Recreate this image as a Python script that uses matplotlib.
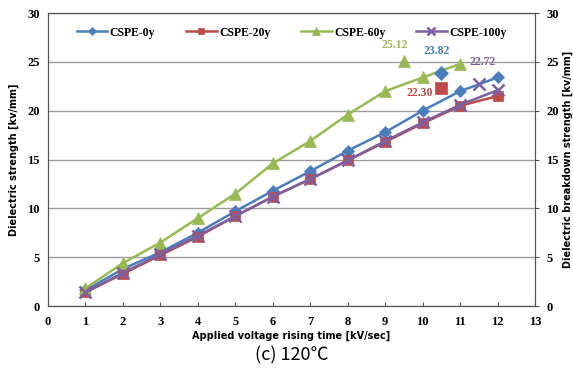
import matplotlib

matplotlib.use("Agg")
import matplotlib.pyplot as plt

# rising rate [kV/sec] and breakdown strength [kv/mm] per aged sample
x_rate = [1, 2, 3, 4, 5, 6, 7, 8, 9, 10, 11, 12]
cspe_0y = [1.6, 3.8, 5.5, 7.5, 9.7, 11.8, 13.8, 15.9, 17.8, 20.0, 22.0, 23.4]
cspe_20y = [1.4, 3.3, 5.2, 7.1, 9.2, 11.2, 13.0, 14.9, 16.8, 18.7, 20.5, 21.5]
cspe_60y = [1.8, 4.4, 6.5, 9.0, 11.5, 14.6, 16.9, 19.6, 22.0, 23.4, 24.8]
cspe_100y = [1.4, 3.4, 5.3, 7.2, 9.2, 11.2, 13.0, 14.9, 16.9, 18.8, 20.6, 22.1]

# averages drawn as lone markers with their value above
avg_x = [10.5, 10.5, 9.5, 11.5]
avg_y = [23.82, 22.30, 25.12, 22.72]
avg_labels = ["23.82", "22.30", "25.12", "22.72"]
label_pos = [(10.37, 26.1), (9.92, 21.8), (9.25, 26.7), (11.6, 25.0)]

names = ["CSPE-0y", "CSPE-20y", "CSPE-60y", "CSPE-100y"]
colors = ["#4a7ebb", "#be4b48", "#98b954", "#7d60a0"]
markers = ["D", "s", "^", "x"]
sizes = [6, 7, 8, 8]

SERIF = "Liberation Serif"
GRID = "#9a9a9a"
SPINE = "#555555"

fig = plt.figure(figsize=(5.73, 3.79), dpi=100)
ax = fig.add_axes([0.0838, 0.1926, 0.850, 0.773])

series = [cspe_0y, cspe_20y, cspe_60y, cspe_100y]
for vals, name, c, m, s in zip(series, names, colors, markers, sizes):
    ax.plot(x_rate[: len(vals)], vals, color=c, marker=m, markersize=s,
            markeredgewidth=1.8 if m == "x" else 0.5, linewidth=1.8, label=name)

for i in range(4):
    ax.plot(avg_x[i], avg_y[i], linestyle="none", marker=markers[i],
            markersize=sizes[i] + 1, color=colors[i],
            markeredgewidth=1.8 if markers[i] == "x" else 0.5)
    ax.text(label_pos[i][0], label_pos[i][1], avg_labels[i], color=colors[i],
            fontsize=8.5, fontweight="bold", family=SERIF, ha="center", va="center")

ax.set_xlim(0, 13)
ax.set_ylim(0, 30)
ax.set_xticks(range(0, 14))
ax.set_yticks(range(0, 31, 5))
ax.grid(axis="y", color=GRID, linewidth=1)
ax.set_axisbelow(True)
for sp in ax.spines.values():
    sp.set_color(SPINE)
ax.tick_params(axis="x", direction="in", length=3, color=SPINE, pad=7)
ax.tick_params(axis="y", length=0, pad=6)
for lab in ax.get_xticklabels() + ax.get_yticklabels():
    lab.set_family(SERIF)
    lab.set_fontweight("bold")
    lab.set_fontsize(9)

ax.set_xlabel("Applied voltage rising time [kV/sec]", fontsize=7, fontweight="bold", labelpad=2)
ax.set_ylabel("Dielectric strength [kv/mm]", fontsize=7, fontweight="bold", labelpad=6)

ax2 = ax.twinx()
ax2.set_ylim(0, 30)
ax2.set_yticks(range(0, 31, 5))
ax2.tick_params(axis="y", length=3, color=SPINE, pad=5)
for sp in ax2.spines.values():
    sp.set_color(SPINE)
for lab in ax2.get_yticklabels():
    lab.set_family(SERIF)
    lab.set_fontweight("bold")
    lab.set_fontsize(9)
ax2.set_ylabel("Dielectric breakdown strength [kv/mm]", fontsize=7, fontweight="bold", labelpad=3)

leg = ax.legend(loc="upper center", bbox_to_anchor=(0.5, 0.99), ncol=4, frameon=False,
                prop={"family": SERIF, "weight": "bold", "size": 8.5},
                columnspacing=2.6, handlelength=2.6, handletextpad=0.2, markerscale=0.7)

fig.text(0.51, 0.062, "(c) 120\u2103", fontsize=13, ha="center", va="center",
         family=["Noto Sans CJK KR", "DejaVu Sans"])

fig.savefig("out.png", dpi=100)
